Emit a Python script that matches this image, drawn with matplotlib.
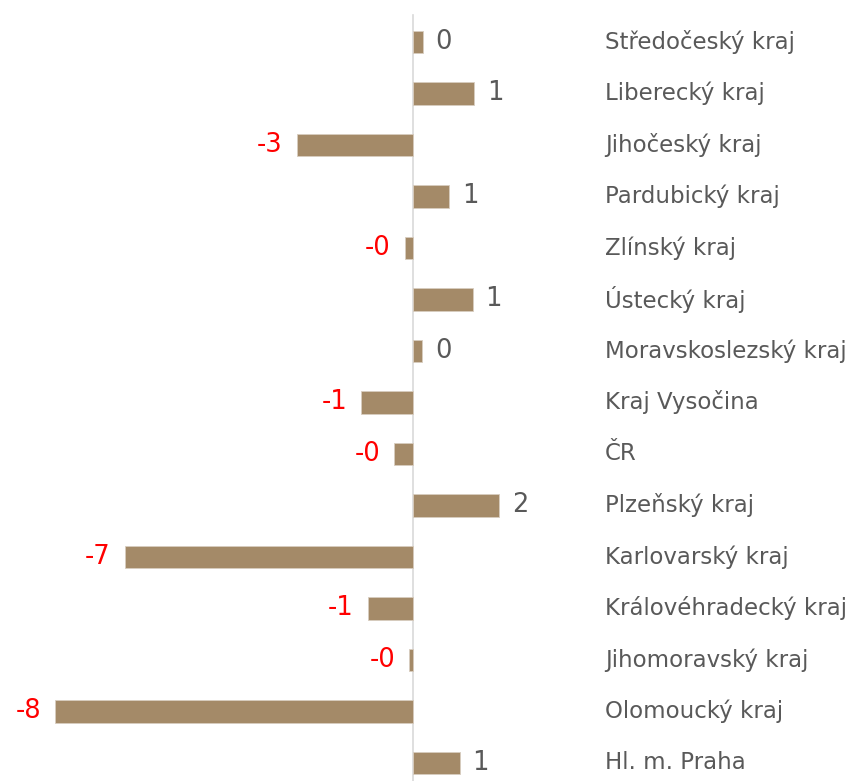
import numpy as np
import matplotlib.pyplot as plt
import matplotlib.transforms as mtransforms

# regions top to bottom
regions = ['Středočeský kraj', 'Liberecký kraj', 'Jihočeský kraj', 'Pardubický kraj',
           'Zlínský kraj', 'Ústecký kraj', 'Moravskoslezský kraj', 'Kraj Vysočina',
           'ČR', 'Plzeňský kraj', 'Karlovarský kraj', 'Královéhradecký kraj',
           'Jihomoravský kraj', 'Olomoucký kraj', 'Hl. m. Praha']
values = [0.23, 1.43, -2.70, 0.85, -0.19, 1.40, 0.22, -1.20, -0.43, 2.01,
          -6.70, -1.05, -0.08, -8.32, 1.09]

bar_color = '#a48a68'
text_gray = '#595959'

fig = plt.figure(figsize=(8.6, 7.81), dpi=100)
ax = fig.add_axes([0, 0, 1, 1])

y = np.arange(len(regions))
ax.barh(y, values, height=0.43, color=bar_color, edgecolor='#d8cdbf', linewidth=0.6, zorder=2)

ax.set_xlim(-9.6, 10.4)
ax.set_ylim(len(regions) - 1 + 0.35, -0.815)
# zero line starts a little above the first bar
ax.plot([0, 0], [-0.52, len(regions) - 1 + 0.35], color='#d9d9d9', linewidth=1.2, zorder=1)

for s in ax.spines.values():
    s.set_visible(False)
ax.set_xticks([])
ax.set_yticks([])

# value labels
for yi, v in zip(y, values):
    label = f'{v:.0f}'
    if v < 0:
        ax.annotate(label, (v, yi), xytext=(-10, 0), textcoords='offset points',
                    ha='right', va='center', color='red', fontsize=18.5)
    else:
        ax.annotate(label, (v, yi), xytext=(9, 0), textcoords='offset points',
                    ha='left', va='center', color=text_gray, fontsize=18.5)

# category names on the right
trans = mtransforms.blended_transform_factory(ax.transAxes, ax.transData)
for yi, name in zip(y, regions):
    ax.text(605 / 860, yi, name, transform=trans, ha='left', va='center',
            color=text_gray, fontsize=16.5)

fig.savefig('out.png', dpi=100)
